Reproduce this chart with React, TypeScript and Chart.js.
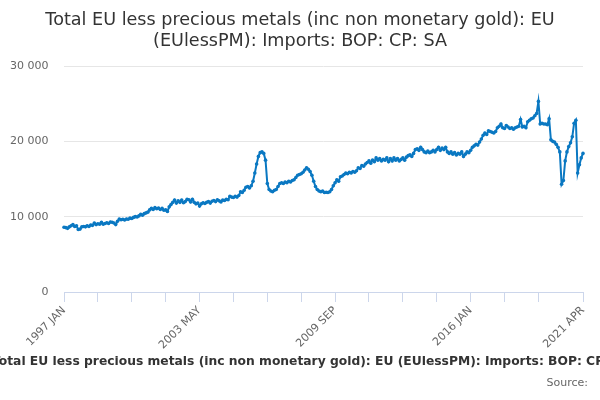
import { useEffect, useRef } from "react";
import { Chart, registerables } from "chart.js";

Chart.register(...registerables);

const TITLE = [
  "Total EU less precious metals (inc non monetary gold): EU",
  "(EUlessPM): Imports: BOP: CP: SA",
];
const SERIES_NAME =
  "Total EU less precious metals (inc non monetary gold): EU (EUlessPM): Imports: BOP: CP: SA";
const SOURCE = "Source:";

const MONTHS = ["JAN", "FEB", "MAR", "APR", "MAY", "JUN", "JUL", "AUG", "SEP", "OCT", "NOV", "DEC"];
const FIRST_YEAR = 1997;

// monthly values, £ million
const v1997 = [8600, 8550, 8450, 8650, 8800, 8950, 8700, 8800, 8300, 8350, 8650, 8700];
const v1998 = [8650, 8800, 8700, 8900, 8850, 9150, 8950, 9050, 9000, 9250, 9000, 9100];
const v1999 = [9200, 9100, 9300, 9250, 9150, 8950, 9400, 9700, 9600, 9650, 9550, 9700];
const v2000 = [9650, 9800, 9750, 9900, 10000, 9950, 10100, 10300, 10200, 10400, 10500, 10600];
const v2001 = [10900, 11100, 10950, 11200, 11050, 11150, 10950, 11100, 10850, 10900, 10700, 11300];
const v2002 = [11600, 11900, 12200, 11800, 12100, 11900, 12200, 11850, 12000, 12300, 12250, 11950];
const v2003 = [12300, 11900, 11700, 11800, 11400, 11700, 11850, 11750, 11900, 12000, 11800, 12050];
const v2004 = [12150, 12000, 12250, 12100, 11950, 12200, 12150, 12300, 12250, 12700, 12600, 12550];
const v2005 = [12700, 12600, 12800, 13300, 13200, 13500, 13900, 14000, 13800, 14100, 14700, 15800];
const v2006 = [17000, 18000, 18500, 18600, 18400, 17500, 14400, 13600, 13400, 13300, 13500, 13600];
const v2007 = [14000, 14400, 14500, 14400, 14600, 14500, 14700, 14600, 14800, 14900, 15200, 15500];
const v2008 = [15600, 15700, 15900, 16200, 16500, 16300, 16000, 15500, 14700, 14000, 13600, 13400];
const v2009 = [13300, 13400, 13200, 13250, 13200, 13300, 13600, 14100, 14500, 14900, 14700, 15300];
const v2010 = [15400, 15600, 15800, 15700, 15900, 15800, 16000, 15900, 16100, 16500, 16400, 16800];
const v2011 = [16700, 17000, 17200, 17400, 17100, 17500, 17300, 17800, 17500, 17700, 17400, 17600];
const v2012 = [17500, 17800, 17300, 17700, 17400, 17800, 17500, 17700, 17400, 17600, 17800, 17500];
const v2013 = [17900, 18100, 18200, 18000, 18400, 18900, 19000, 18800, 19200, 18900, 18600, 18500];
const v2014 = [18700, 18500, 18600, 18800, 18600, 18900, 19200, 18800, 19100, 18900, 19200, 18600];
const v2015 = [18400, 18600, 18300, 18500, 18200, 18400, 18300, 18600, 18000, 18300, 18600, 18500];
const v2016 = [18800, 19200, 19400, 19600, 19500, 19900, 20300, 20800, 21100, 20900, 21400, 21300];
const v2017 = [21200, 21100, 21300, 21800, 22000, 22300, 21800, 21700, 22100, 21900, 21700, 21800];
const v2018 = [21600, 21800, 21900, 22000, 22900, 21900, 22000, 21800, 22600, 22800, 23000, 23100];
const v2019 = [23400, 23700, 25300, 22300, 22400, 22300, 22300, 22200, 23000, 20200, 20000, 19900];
const v2020 = [19600, 19200, 18600, 14300, 14800, 17400, 18600, 19300, 19800, 20600, 22400, 22800];
const v2021 = [15800, 16900, 17800, 18400];

const values = [
  ...v1997, ...v1998, ...v1999, ...v2000, ...v2001, ...v2002, ...v2003, ...v2004, ...v2005,
  ...v2006, ...v2007, ...v2008, ...v2009, ...v2010, ...v2011, ...v2012, ...v2013, ...v2014,
  ...v2015, ...v2016, ...v2017, ...v2018, ...v2019, ...v2020, ...v2021,
];

const labels = values.map((_, i) => `${FIRST_YEAR + Math.floor(i / 12)} ${MONTHS[i % 12]}`);

const SHOWN_TICKS = ["1997 JAN", "2003 MAY", "2009 SEP", "2016 JAN", "2021 APR"];
const TICK_STEP = 19; // months between small tick marks
const Y_MAX = 30000;
const Y_STEP = 10000;

const LINE = "#0a78c2";
const FONT = "'DejaVu Sans', sans-serif";

// title on top, series name and source under the axis (drawn by hand)
const textPlugin = {
  id: "texts",
  afterDraw(chart: Chart) {
    const { ctx } = chart;
    ctx.save();
    ctx.textBaseline = "middle";
    ctx.textAlign = "center";
    ctx.fillStyle = "#333333";
    ctx.font = `17.6px ${FONT}`;
    ctx.fillText(TITLE[0], 300, 20.5);
    ctx.fillText(TITLE[1], 300, 41);
    // the series name is wider than the page and runs off both sides
    ctx.font = `bold 12.3px ${FONT}`;
    ctx.textAlign = "left";
    ctx.fillText(SERIES_NAME, -8, 362);
    ctx.font = `11px ${FONT}`;
    ctx.fillStyle = "#666666";
    ctx.textAlign = "right";
    ctx.fillText(SOURCE, 588, 383);
    ctx.restore();
  },
};

export default function App() {
  const canvasRef = useRef<HTMLCanvasElement | null>(null);
  const chartRef = useRef<Chart | null>(null);

  useEffect(() => {
    if (!canvasRef.current) return;
    chartRef.current?.destroy();

    const last = labels.length - 1;

    chartRef.current = new Chart(canvasRef.current, {
      type: "line",
      data: {
        labels,
        datasets: [
          {
            label: SERIES_NAME,
            data: values,
            borderColor: LINE,
            backgroundColor: LINE,
            borderWidth: 2,
            pointRadius: 1.8,
            pointBorderWidth: 0,
            pointBackgroundColor: LINE,
            tension: 0,
          },
        ],
      },
      options: {
        responsive: true,
        maintainAspectRatio: false,
        animation: false,
        layout: { padding: { left: 0, right: 17, top: 66, bottom: 0 } },
        font: { family: FONT },
        scales: {
          x: {
            type: "category",
            offset: false,
            afterBuildTicks: (scale: any) => {
              scale.ticks = scale.ticks.filter(
                (t: any) => t.value === last || (t.value % TICK_STEP === 0 && last - t.value > TICK_STEP)
              );
            },
            afterFit: (scale: any) => {
              scale.height = 108;
            },
            ticks: {
              autoSkip: false,
              minRotation: 45,
              maxRotation: 45,
              padding: 2,
              color: "#666666",
              font: { family: FONT, size: 11 },
              callback: (value: any) => {
                const l = labels[value as number];
                return SHOWN_TICKS.includes(l) ? l : "";
              },
            },
            grid: {
              drawOnChartArea: false,
              drawTicks: true,
              tickLength: 10,
              color: "#ccd6eb",
            },
            border: { display: true, color: "#ccd6eb", width: 1 },
          },
          y: {
            min: 0,
            max: Y_MAX,
            afterFit: (scale: any) => {
              scale.width = 64;
            },
            ticks: {
              stepSize: Y_STEP,
              padding: 15.5,
              color: "#666666",
              font: { family: FONT, size: 11 },
              callback: (value: any) => Number(value).toLocaleString("en-US").replace(/,/g, " "),
            },
            grid: {
              drawTicks: false,
              color: (ctx: any) => (ctx.tick && ctx.tick.value === 0 ? "rgba(0,0,0,0)" : "#e6e6e6"),
            },
            border: { display: false },
          },
        },
        plugins: {
          legend: { display: false },
          tooltip: { enabled: false },
          title: { display: false },
        },
      },
      plugins: [textPlugin],
    });

    return () => {
      chartRef.current?.destroy();
      chartRef.current = null;
    };
  }, []);

  return (
    <div style={{ position: "fixed", left: 0, top: 0, width: 600, height: 400, background: "#ffffff" }}>
      <canvas ref={canvasRef} />
    </div>
  );
}
